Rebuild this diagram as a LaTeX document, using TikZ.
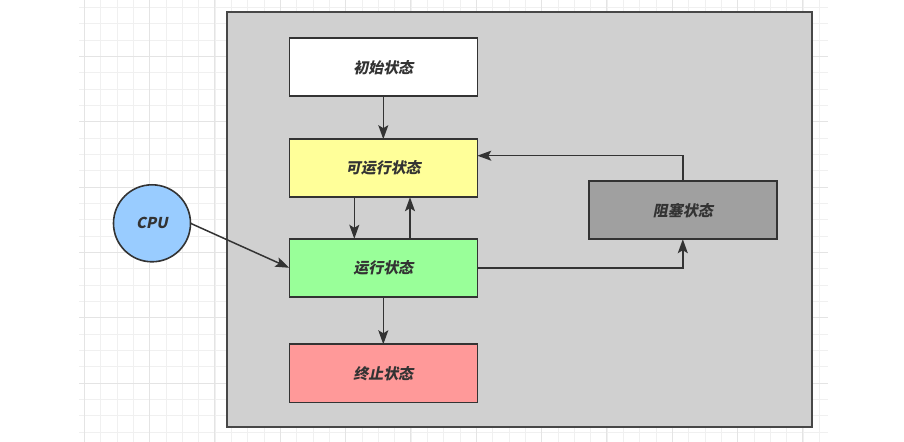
\documentclass[tikz,border=0pt]{standalone}
\usepackage{fontspec}
\newfontfamily\cjk{Noto Sans CJK SC}[FakeSlant=0.2]
\usetikzlibrary{arrows.meta}
\definecolor{linec}{HTML}{333333}
\definecolor{gridminor}{HTML}{F0F0F0}
\definecolor{gridmajor}{HTML}{E4E4E4}
\definecolor{framefill}{HTML}{D0D0D0}
\definecolor{cpufill}{HTML}{99CCFF}
\definecolor{runnablefill}{HTML}{FFFF99}
\definecolor{runfill}{HTML}{99FF99}
\definecolor{endfill}{HTML}{FF9999}
\definecolor{blockfill}{HTML}{A0A0A0}
\tikzset{
  statebox/.style={draw=linec, line width=1.6bp, minimum width=188bp, minimum height=58bp,
    outer sep=0pt, inner sep=0pt, text=linec, font=\cjk\bfseries\fontsize{15}{17}\selectfont},
  cpunode/.style={circle, draw=linec, line width=1.6bp, fill=cpufill, minimum size=77bp,
    outer sep=0pt, inner sep=0pt, text=linec, font=\cjk\bfseries\fontsize{15}{17}\selectfont},
  framebox/.style={draw=linec!90, line width=2bp, fill=framefill, minimum width=585bp,
    minimum height=415bp, outer sep=0pt, inner sep=0pt},
  arr/.style={draw=linec, line width=1.5bp, -{Stealth[length=14bp, width=10bp, inset=3bp]}},
  gminor/.style={draw=gridminor, line width=0.9bp},
  gmajor/.style={draw=gridmajor, line width=1bp}
}
\begin{document}
\begin{tikzpicture}[x=1bp, y=-1bp]
\useasboundingbox (0,0) rectangle (904,442);
\fill[white] (0,0) rectangle (904,442);
% background grid
\foreach \k in {0,...,45} {
  \pgfmathsetmacro\xx{84.33+16.333*\k}
  \draw[gminor] (\xx,0) -- (\xx,442);
}
\foreach \k in {0,...,26} {
  \pgfmathsetmacro\yy{7.5+16.333*\k}
  \draw[gminor] (79.3,\yy) -- (827.7,\yy);
}
\foreach \k in {0,4,...,44} {
  \pgfmathsetmacro\xx{84.33+16.333*\k}
  \draw[gmajor] (\xx,0) -- (\xx,442);
}
\foreach \k in {3,7,...,23} {
  \pgfmathsetmacro\yy{7.5+16.333*\k}
  \draw[gmajor] (79.3,\yy) -- (827.7,\yy);
}
% container
\node[framebox] (frame) at (519.3,219.7) {};
% states
\node[statebox, fill=white] (init) at (383.3,67.3) {初始状态};
\node[statebox, fill=runnablefill] (runnable) at (383.3,168.2) {可运行状态};
\node[statebox, fill=runfill] (run) at (383.3,267.8) {运行状态};
\node[statebox, fill=endfill] (term) at (383.3,373.3) {终止状态};
\node[statebox, fill=blockfill] (block) at (682.8,210.2) {阻塞状态};
\node[cpunode] (cpu) at (152,223.3) {CPU};
% connectors
\draw[arr] (init.south) -- (runnable.north);
\draw[arr] ([xshift=-29bp]runnable.south) -- ([xshift=-29bp]run.north);
\draw[arr] ([xshift=26.7bp]run.north) -- ([xshift=26.7bp]runnable.south);
\draw[arr] (run.south) -- (term.north);
\draw[arr] (cpu.east) -- (run.west);
\draw[arr] (run.east) -| (block.south);
\coordinate (bk) at (682.8,155.7);
\draw[arr] (block.north) -- (bk) -- (runnable.east |- bk);
\end{tikzpicture}
\end{document}
